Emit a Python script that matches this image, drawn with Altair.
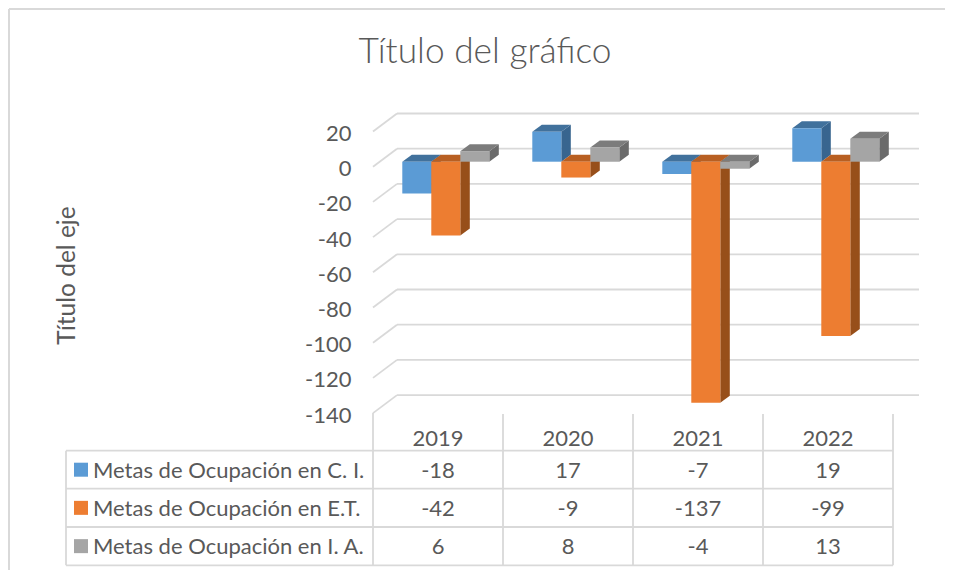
import altair as alt
import pandas as pd

# ---- values ----
years = ["2019", "2020", "2021", "2022"]
series = ["Metas de Ocupación en C. I.", "Metas de Ocupación en E.T.", "Metas de Ocupación en I. A."]
ci = [-18, 17, -7, 19]
et = [-42, -9, -137, -99]
ia = [6, 8, -4, 13]
ticks = [20, 0, -20, -40, -60, -80, -100, -120, -140]

# ---- styles ----
front = ["#5B9BD5", "#ED7D31", "#A5A5A5"]
top = ["#41719C", "#B85F22", "#7C7C7C"]
side = ["#38658F", "#974F1A", "#6B6B6B"]
LINE = "#D9D9D9"
TEXT = "#595959"
FONT = "Lato"
FS = 22

# ---- layout (page pixels) ----
W, H = 937, 562
AXIS_X = 343            # the plot group starts here, so the axis sits where its labels belong
PX_PER_UNIT = 1.76
ZERO_Y = 161.7          # bar front baseline
COL = 130.0
COL0 = 373.0
BAR_W = 29.0
BAR_OFF = 29.3
BAR_DX, BAR_DY = 9.5, 7.0
GRID_DX, GRID_DY = 24.0, 18.0
GRID_RIGHT = 919.0
ROWS = [450.7, 488.7, 527.0, 565.3]
TABLE_L = 66.0


def xu(px):
    return (px - COL0) / COL


def yu(px):
    return (ZERO_Y - px) / PX_PER_UNIT


PW = W - AXIS_X
x_scale = alt.Scale(domain=[xu(8 + AXIS_X), xu(8 + W)], range=[0, PW], nice=False, zero=False)
y_scale = alt.Scale(domain=[yu(8 + H), yu(8)], range=[H, 0], nice=False, zero=False)

# the same axis on every layer, so that the layers merge into one real axis
axis = alt.Axis(values=ticks, grid=False, domain=False, ticks=False, tickSize=0, labelPadding=0,
                labelOffset=7, labelFont=FONT, labelFontSize=FS, labelColor=TEXT,
                labelExpr="'' + datum.value", labelOverlap=False, labelFlush=False,
                title="Título del eje", titleFont=FONT, titleFontSize=24.5, titleFontWeight="normal",
                titleColor=TEXT, titleX=-284, titleY=267, titleAngle=270, titleAlign="center",
                titleBaseline="middle")

X = lambda f="x": alt.X(f"{f}:Q", scale=x_scale, axis=None)
Y = lambda f="y": alt.Y(f"{f}:Q", scale=y_scale, axis=axis)

layers = []


def rules(rows, width=1.6, color=LINE):
    df = pd.DataFrame(rows, columns=["x", "x2", "y", "y2"])
    return alt.Chart(df).mark_rule(stroke=color, strokeWidth=width).encode(
        x=X(), x2="x2:Q", y=Y(), y2="y2:Q")


# frame: top and left edges only
layers.append(rules([(xu(9), xu(8 + W), yu(9), yu(9)), (xu(9), xu(9), yu(9), yu(8 + H))], 2))

# back grid + slanted floor edges
grid_rows = []
for t in ticks:
    yb = ZERO_Y - t * PX_PER_UNIT - 13
    grid_rows.append((xu(COL0 + GRID_DX), xu(GRID_RIGHT), yu(yb), yu(yb)))
    grid_rows.append((xu(COL0), xu(COL0 + GRID_DX), yu(yb + GRID_DY), yu(yb)))
layers.append(rules(grid_rows, 1.8))

# bars
all_values = [ci, et, ia]
for s, vals in enumerate(all_values):
    bars = pd.DataFrame({"i": range(len(vals)), "v": vals})
    bars["x"] = bars["i"] + (BAR_OFF + s * BAR_W) / COL
    bars["x2"] = bars["x"] + BAR_W / COL
    bars["hi"] = bars["v"].clip(lower=0)
    bars["lo"] = bars["v"].clip(upper=0)
    ddx, ddy = BAR_DX / COL, BAR_DY / PX_PER_UNIT

    side_rows, top_rows = [], []
    for _, b in bars.iterrows():
        side_rows += [
            dict(id=b.i, x=b.x2, y=b.hi, y2=b.lo),
            dict(id=b.i, x=b.x2 + ddx, y=b.hi + ddy, y2=b.lo + ddy),
        ]
        top_rows += [
            dict(id=b.i, x=b.x, x2=b.x2, y=b.hi),
            dict(id=b.i, x=b.x + ddx, x2=b.x2 + ddx, y=b.hi + ddy),
        ]
    layers.append(alt.Chart(pd.DataFrame(side_rows)).mark_area(color=side[s], orient="vertical", opacity=1).encode(
        x=X(), y=Y(), y2="y2:Q", detail="id:N"))
    layers.append(alt.Chart(pd.DataFrame(top_rows)).mark_area(color=top[s], orient="horizontal", opacity=1).encode(
        x=X(), x2="x2:Q", y=Y(), detail="id:N"))
    layers.append(alt.Chart(bars).mark_rect(color=front[s], opacity=1).encode(
        x=X(), x2="x2:Q", y=Y("hi"), y2="lo:Q"))

# data table lines
t_rows = []
for r in ROWS:
    t_rows.append((xu(TABLE_L), xu(COL0 + 4 * COL), yu(r), yu(r)))
t_rows.append((xu(TABLE_L), xu(TABLE_L), yu(ROWS[0]), yu(ROWS[-1])))
for c in range(5):
    xp = COL0 + c * COL
    t_rows.append((xu(xp), xu(xp), yu(413 if c == 0 else 414), yu(ROWS[-1])))
layers.append(rules(t_rows, 1.8))

# data table text
cells = []
ymid = [(ROWS[i] + ROWS[i + 1]) / 2 + 1 for i in range(3)]
for c, yr in enumerate(years):
    cells.append(dict(x=c + 0.5, y=yu(439), t=yr))
    for s, vals in enumerate(all_values):
        cells.append(dict(x=c + 0.5, y=yu(ymid[s]), t=str(vals[c])))
layers.append(alt.Chart(pd.DataFrame(cells)).mark_text(
    font=FONT, fontSize=FS, color=TEXT, align="center", baseline="middle").encode(
    x=X(), y=Y(), text="t:N"))

names = pd.DataFrame({"x": [xu(93)] * 3, "y": [yu(m) for m in ymid], "t": series})
layers.append(alt.Chart(names).mark_text(
    font=FONT, fontSize=FS, color=TEXT, align="left", baseline="middle").encode(
    x=X(), y=Y(), text="t:N"))

swatch = pd.DataFrame({"x": [xu(81)] * 3, "y": [yu(m - 1) for m in ymid], "c": front})
layers.append(alt.Chart(swatch).mark_square(size=196, opacity=1).encode(
    x=X(), y=Y(), color=alt.Color("c:N", scale=None)))

chart = alt.layer(*layers).properties(
    width=PW, height=H, padding={"left": AXIS_X, "top": 0, "right": 0, "bottom": 0},
    autosize=alt.AutoSizeParams(type="none"),
    title=alt.TitleParams("Título del gráfico", font=FONT, fontSize=35.3, fontWeight=300,
                          color=TEXT, anchor="middle", dx=477 - (AXIS_X + PW / 2), dy=66),
).configure_view(stroke=None)

chart.save("out.html", embed_options={"renderer": "svg", "actions": False})
